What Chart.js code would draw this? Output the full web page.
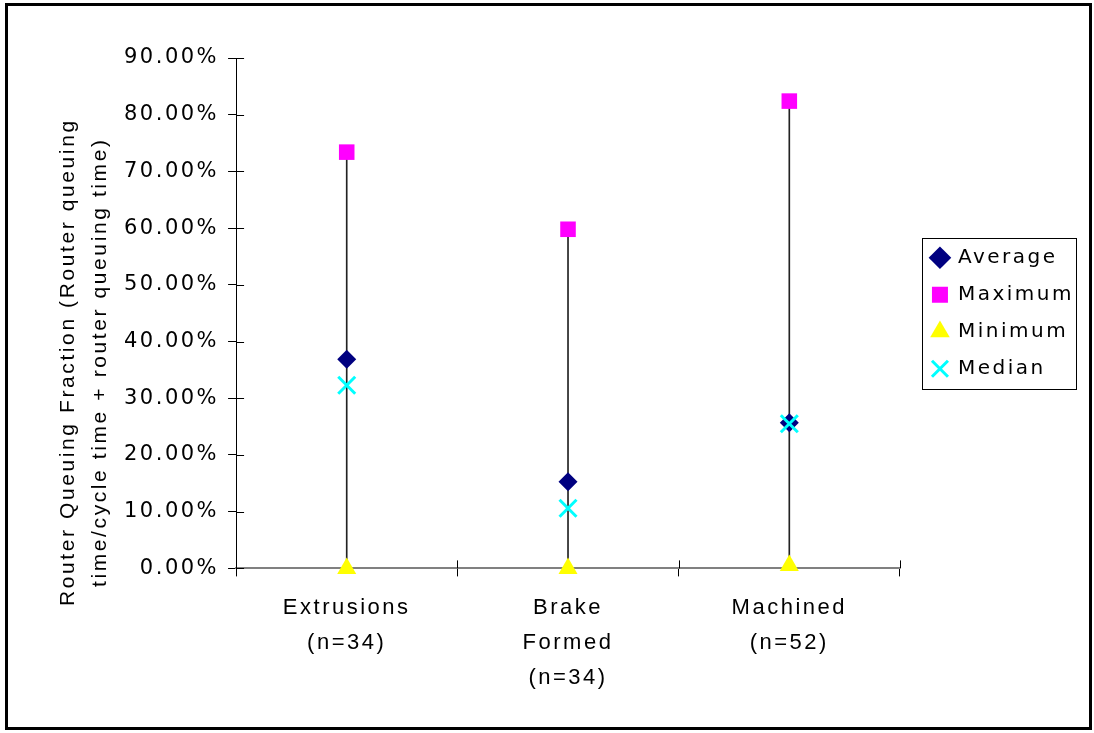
<!DOCTYPE html>
<html>
<head>
<meta charset="utf-8">
<script src="https://cdn.jsdelivr.net/npm/chart.js@4.4.1/dist/chart.umd.min.js"></script>
<style>
  html, body { margin: 0; padding: 0; background: #fff; }
  #frame { position: absolute; left: 5px; top: 3px; width: 1087px; height: 727px; box-sizing: border-box; border: 3px solid #000; background: #fff; }
  #wrap { position: absolute; left: 0; top: 0; width: 1081px; height: 721px; }
</style>
</head>
<body>
<div id="frame"><div id="wrap"><canvas id="c"></canvas></div></div>
<script>
const categories = [["Extrusions", "(n=34)"], ["Brake", "Formed", "(n=34)"], ["Machined", "(n=52)"]];
const averageValues = [0.369, 0.153, 0.257];
const maximumValues = [0.734, 0.598, 0.824];
const minimumValues = [0.0, 0.0, 0.005];
const medianValues = [0.323, 0.106, 0.255];
const yTicks = [0, 0.1, 0.2, 0.3, 0.4, 0.5, 0.6, 0.7, 0.8, 0.9];
const yTitle = ["Router Queuing Fraction (Router queuing", "time/cycle time + router queuing time)"];

const SPACING = '2.5px';
const LEGEND_SHIFT = 15;

const spacingPlugin = {
  id: 'spacing',
  afterInit(chart) {
    const lg = chart.legend;
    if (lg && !lg._wrapped) {
      lg._wrapped = true;
      const fit = lg.fit.bind(lg);
      lg.fit = function () { fit(); if (!this.isHorizontal()) this.width += LEGEND_SHIFT; };
      const draw = lg.draw.bind(lg);
      lg.draw = function () {
        const ctx = this.ctx;
        ctx.save();
        ctx.translate(LEGEND_SHIFT, 0);
        draw();
        ctx.restore();
      };
    }
  },
  beforeUpdate(chart) { chart.ctx.letterSpacing = SPACING; },
  beforeLayout(chart) { chart.ctx.letterSpacing = SPACING; },
  beforeDraw(chart) { chart.ctx.letterSpacing = SPACING; }
};

// inner halves of the crossing tick marks
const innerTicks = {
  id: 'innerTicks',
  afterDatasetsDraw(chart) {
    const ctx = chart.ctx;
    const a = chart.chartArea;
    const xs = chart.scales.x, ys = chart.scales.y;
    ctx.save();
    ctx.strokeStyle = '#000';
    ctx.lineWidth = 1;
    ctx.beginPath();
    yTicks.forEach(v => {
      const y = Math.round(ys.getPixelForValue(v)) + 0.5;
      ctx.moveTo(a.left, y);
      ctx.lineTo(a.left + 8, y);
    });
    const n = categories.length;
    for (let i = 1; i <= n; i++) {
      const x = i < n ? (xs.getPixelForValue(i - 1) + xs.getPixelForValue(i)) / 2 : a.right;
      const px = Math.round(x) + 0.5;
      ctx.moveTo(px, a.bottom);
      ctx.lineTo(px, a.bottom - 8);
    }
    ctx.stroke();
    ctx.restore();
  }
};

const yTitlePlugin = {
  id: 'yTitle',
  afterDraw(chart) {
    const ctx = chart.ctx;
    const a = chart.chartArea;
    ctx.save();
    ctx.letterSpacing = '2.6px';
    ctx.fillStyle = '#000';
    ctx.font = '21px "Liberation Sans"';
    ctx.textAlign = 'center';
    ctx.textBaseline = 'middle';
    const cy = (a.top + a.bottom) / 2 + 49;
    const xs = [60, 92];
    yTitle.forEach((t, i) => {
      ctx.save();
      ctx.translate(xs[i], cy);
      ctx.rotate(-Math.PI / 2);
      ctx.fillText(t, 0, 0);
      ctx.restore();
    });
    ctx.restore();
  }
};

const legendBox = {
  id: 'legendBox',
  afterDraw(chart) {
    const l = chart.legend;
    if (!l || !l.legendHitBoxes || !l.legendHitBoxes.length) return;
    const hb = l.legendHitBoxes;
    const left = Math.min(...hb.map(h => h.left)) + LEGEND_SHIFT - 10;
    const right = Math.max(...hb.map(h => h.left + h.width)) + LEGEND_SHIFT + 2;
    const top = Math.min(...hb.map(h => h.top)) - 10;
    const bottom = Math.max(...hb.map(h => h.top + h.height)) + 10;
    const ctx = chart.ctx;
    ctx.save();
    ctx.strokeStyle = '#000';
    ctx.lineWidth = 1;
    ctx.strokeRect(Math.round(left) + 0.5, Math.round(top) + 0.5, Math.round(right - left), Math.round(bottom - top));
    ctx.restore();
  }
};

const hiLo = minimumValues.map((v, i) => [v, maximumValues[i]]);

new Chart(document.getElementById('c'), {
  type: 'line',
  data: {
    labels: categories,
    datasets: [
      { label: 'Average', data: averageValues, showLine: false, pointStyle: 'rectRot', pointRadius: 9.5, pointHoverRadius: 9.5,
        backgroundColor: '#000080', borderColor: '#000080', borderWidth: 0, order: 1, clip: false },
      { label: 'Maximum', data: maximumValues, showLine: false, pointStyle: 'rect', pointRadius: 11, pointHoverRadius: 11,
        backgroundColor: '#ff00ff', borderColor: '#ff00ff', borderWidth: 0, order: 2, clip: false },
      { label: 'Minimum', data: minimumValues, showLine: false, pointStyle: 'triangle', pointRadius: 11, pointHoverRadius: 11,
        backgroundColor: '#ffff00', borderColor: '#ffff00', borderWidth: 0, order: 3, clip: false },
      { label: 'Median', data: medianValues, showLine: false, pointStyle: 'crossRot', pointRadius: 12, pointHoverRadius: 12,
        backgroundColor: '#00ffff', borderColor: '#00ffff', borderWidth: 3, order: 0, clip: false },
      { type: 'bar', label: 'HiLo', data: hiLo, backgroundColor: '#222', borderWidth: 0, barThickness: 1, order: 10 }
    ]
  },
  options: {
    responsive: true,
    maintainAspectRatio: false,
    animation: false,
    events: [],
    layout: { padding: { left: 107, right: 5, top: 52, bottom: 17 } },
    plugins: {
      tooltip: { enabled: false },
      legend: {
        position: 'right',
        align: 'center',
        fullSize: false,
        labels: {
          usePointStyle: true,
          boxWidth: 16,
          boxHeight: 16,
          padding: 17,
          color: '#000',
          font: { family: '"DejaVu Sans"', size: 20 },
          filter: (item) => item.text !== 'HiLo',
          sort: (a, b) => a.datasetIndex - b.datasetIndex
        }
      }
    },
    scales: {
      x: {
        offset: true,
        grid: { display: true, drawOnChartArea: false, offset: true, color: '#000', tickLength: 8, tickWidth: 1 },
        border: { display: true, color: '#808080', width: 2 },
        ticks: { color: '#000', font: { family: '"Liberation Sans"', size: 22, lineHeight: 1.6 }, maxRotation: 0, padding: 14 }
      },
      y: {
        min: 0,
        max: 0.9,
        afterBuildTicks: (axis) => { axis.ticks = yTicks.map(v => ({ value: v })); },
        grid: { display: true, drawOnChartArea: false, color: '#000', tickLength: 8, tickWidth: 1 },
        border: { display: true, color: '#000', width: 1 },
        ticks: { color: '#000', font: { family: '"DejaVu Sans"', size: 21 }, padding: 9,
          callback: (v) => (v * 100).toFixed(2) + '%' },
        title: { display: false }
      }
    }
  },
  plugins: [spacingPlugin, innerTicks, yTitlePlugin, legendBox]
});
</script>
</body>
</html>
